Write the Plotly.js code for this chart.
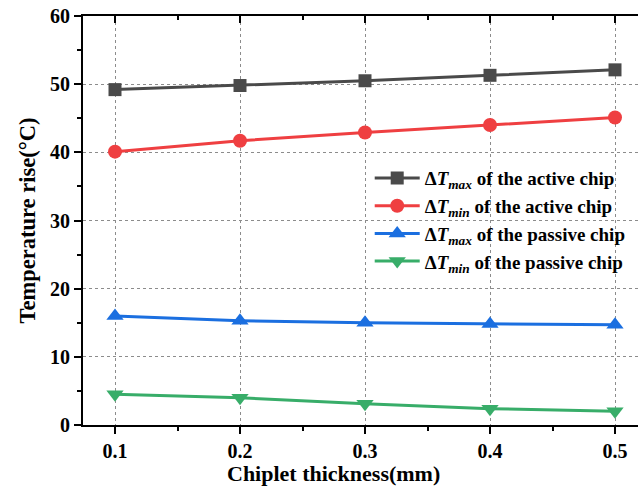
<!DOCTYPE html>
<html>
<head>
<meta charset="utf-8">
<script src="https://cdn.plot.ly/plotly-3.0.1.min.js"></script>
<style>
  html, body { margin: 0; padding: 0; background: #fff; }
  #chart { width: 638px; height: 486px; }
</style>
</head>
<body>
<div id="chart"></div>
<script>
// Chiplet thickness (mm)
const thickness = [0.1, 0.2, 0.3, 0.4, 0.5];

// Temperature rise (°C)
const activeMax  = [49.2, 49.8, 50.5, 51.3, 52.1];
const activeMin  = [40.1, 41.7, 42.9, 44.0, 45.1];
const passiveMax = [16.0, 15.3, 15.0, 14.8, 14.7];
const passiveMin = [4.5, 4.0, 3.1, 2.4, 2.0];

const seriesNames = [
  '<b>Δ<i>T</i><sub><i>max</i></sub> of the active chip</b>',
  '<b>Δ<i>T</i><sub><i>min</i></sub> of the active chip</b>',
  '<b>Δ<i>T</i><sub><i>max</i></sub> of the passive chip</b>',
  '<b>Δ<i>T</i><sub><i>min</i></sub> of the passive chip</b>'
];

const xTitle = '<b>Chiplet thickness(mm)</b>';
const yTitle = '<b>Temperature rise(°C)</b>';

const FONT = '"Liberation Serif", "Times New Roman", serif';

function series(y, name, color, symbol, size) {
  return {
    x: thickness, y: y, name: name, type: 'scatter', mode: 'lines+markers',
    line: { color: color, width: 3 },
    marker: { color: color, symbol: symbol, size: size, line: { width: 0 } },
    cliponaxis: false
  };
}

const traces = [
  series(activeMax,  seriesNames[0], '#4a4a4a', 'square', 13),
  series(activeMin,  seriesNames[1], '#ef3f41', 'circle', 14),
  series(passiveMax, seriesNames[2], '#1b6fe0', 'triangle-up', 15),
  series(passiveMin, seriesNames[3], '#38ad69', 'triangle-down', 15),
  // carrier for the top frame axis
  { x: thickness, y: activeMax, xaxis: 'x2', type: 'scatter', mode: 'markers',
    marker: { opacity: 0 }, showlegend: false, hoverinfo: 'skip' }
];

const axisCommon = {
  showline: true, linecolor: '#000', linewidth: 2,
  ticks: 'outside', ticklen: 7, tickwidth: 2, tickcolor: '#000',
  showgrid: true, gridcolor: '#8c8c8c', gridwidth: 1, griddash: 'dot',
  zeroline: false,
  tickfont: { family: FONT, size: 20, color: '#000', weight: 'bold' }
};

const layout = {
  width: 638, height: 486,
  margin: { l: 83, r: 0, t: 16, b: 61 },
  paper_bgcolor: '#fff', plot_bgcolor: '#fff',
  font: { family: FONT, color: '#000' },
  xaxis: Object.assign({}, axisCommon, {
    range: [0.0744, 0.5184], tick0: 0.1, dtick: 0.1, tickformat: '.1f',
    minor: { dtick: 0.05, tick0: 0.05, ticks: 'outside', ticklen: 4, tickwidth: 2, tickcolor: '#000', showgrid: false }
  }),
  xaxis2: {
    overlaying: 'x', matches: 'x', side: 'top', anchor: 'y',
    showline: true, linecolor: '#000', linewidth: 2,
    ticks: 'inside', ticklen: 7, tickwidth: 2, tickcolor: '#000',
    tick0: 0.1, dtick: 0.1, showticklabels: false, showgrid: false, zeroline: false,
    minor: { dtick: 0.05, tick0: 0.05, ticks: 'inside', ticklen: 4, tickwidth: 2, tickcolor: '#000', showgrid: false }
  },
  yaxis: Object.assign({}, axisCommon, {
    range: [0, 60], tick0: 0, dtick: 10,
    minor: { dtick: 5, ticks: 'outside', ticklen: 4, tickwidth: 2, tickcolor: '#000', showgrid: false },
    title: { text: yTitle, font: { family: FONT, size: 22.5, color: '#000' }, standoff: 8 }
  }),
  annotations: [{
    text: xTitle, xref: 'paper', yref: 'paper', x: 0.452, y: -0.1198,
    xanchor: 'center', yanchor: 'middle', showarrow: false, borderpad: 0,
    font: { family: FONT, size: 22, color: '#000' }
  }],
  legend: {
    x: 0.5166, y: 0.65, xanchor: 'left', yanchor: 'top',
    bgcolor: 'rgba(0,0,0,0)', borderwidth: 0,
    font: { family: FONT, size: 19, color: '#000' },
    itemwidth: 45, tracegroupgap: 0
  },
  showlegend: true
};

Plotly.newPlot('chart', traces, layout, { displayModeBar: false, staticPlot: true });
</script>
</body>
</html>
